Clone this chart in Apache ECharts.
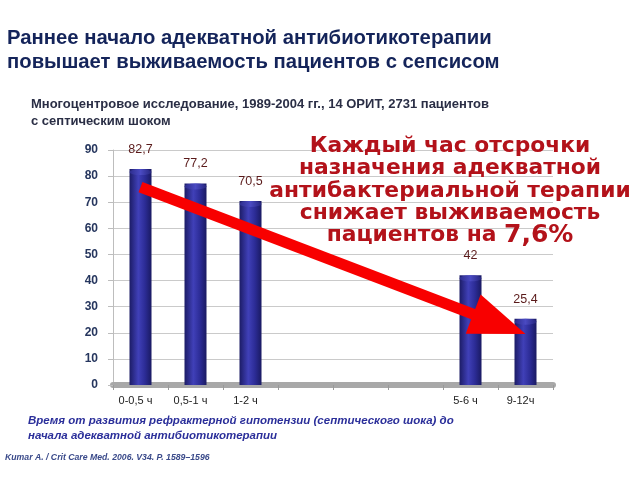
<!DOCTYPE html>
<html>
<head>
<meta charset="utf-8">
<script src="https://cdn.jsdelivr.net/npm/echarts@6/dist/echarts.min.js"></script>
<style>
html,body{margin:0;padding:0;background:#fff;}
#c{width:640px;height:480px;}
</style>
</head>
<body>
<div id="c"></div>
<script>
// ---- data ----
const categories = ['0-0,5 ч', '0,5-1 ч', '1-2 ч', '', '', '', '5-6 ч', '9-12ч'];
const survival = [82.7, 77.2, 70.5, null, null, null, 42, 25.4];
const yTicks = [0, 10, 20, 30, 40, 50, 60, 70, 80, 90];
// arrow annotation in data coordinates: [category index, value]
const arrowFrom = [0, 75.8];
const arrowTo = [7.06, 19.5];

const titleText = 'Раннее начало адекватной антибиотикотерапии\nповышает выживаемость пациентов с сепсисом';
const subText = 'Многоцентровое исследование, 1989-2004 гг., 14 ОРИТ, 2731 пациентов\nс септическим шоком';
const noteLines = ['Каждый час отсрочки', 'назначения адекватной', 'антибактериальной терапии', 'снижает выживаемость'];
const noteLast = ['пациентов на ', '7,6%'];
const xTitle = 'Время от развития рефрактерной гипотензии (септического шока) до\nначала адекватной антибиотикотерапии';
const citation = 'Kumar A. / Crit Care Med. 2006. V34. P. 1589–1596';

const chart = echarts.init(document.getElementById('c'), null, {renderer: 'canvas'});

const cyl = new echarts.graphic.LinearGradient(0, 0, 1, 0, [
  {offset: 0, color: '#1c1c66'},
  {offset: 0.4, color: '#4040b8'},
  {offset: 0.7, color: '#2c2c96'},
  {offset: 1, color: '#1a1a62'}
]);
const capGrad = new echarts.graphic.LinearGradient(0, 0, 1, 0, [
  {offset: 0, color: '#2c2c8c'},
  {offset: 0.5, color: '#4a4ac2'},
  {offset: 1, color: '#26267e'}
]);

const option = {
  animation: false,
  backgroundColor: '#ffffff',
  textStyle: {fontFamily: 'Liberation Sans, Arial, sans-serif'},
  title: [
    {text: titleText, left: 7, top: 26, padding: 0,
     textStyle: {fontSize: 20.3, fontWeight: 'bold', color: '#14245a', lineHeight: 24, fontFamily: 'Liberation Sans'}},
    {text: subText, left: 31, top: 96, padding: 0,
     textStyle: {fontSize: 13, fontWeight: 'bold', color: '#2a2e45', lineHeight: 17, fontFamily: 'Liberation Sans'}},
    {text: xTitle, left: 28, top: 413, padding: 0,
     textStyle: {fontSize: 11.5, fontWeight: 'bold', fontStyle: 'italic', color: '#2b2f9a', lineHeight: 15, fontFamily: 'Liberation Sans'}},
    {text: citation, left: 5, top: 453, padding: 0,
     textStyle: {fontSize: 8.7, fontWeight: 'bold', fontStyle: 'italic', color: '#3a4a8a', fontFamily: 'Liberation Sans'}}
  ],
  grid: {left: 113, right: 87, top: 150, bottom: 95, containLabel: false},
  xAxis: {
    type: 'category',
    data: categories,
    axisLine: {show: true, lineStyle: {color: '#a8a8a8', width: 6}},
    axisTick: {show: true, length: 5, lineStyle: {color: '#9a9a9a'}},
    axisLabel: {fontSize: 11, color: '#222', margin: 10, padding: [0, 10, 0, 0], interval: 0}
  },
  yAxis: {
    type: 'value',
    min: yTicks[0],
    max: yTicks[yTicks.length - 1],
    interval: 10,
    axisLine: {show: true, lineStyle: {color: '#bdbdbd'}},
    axisTick: {show: true, length: 5, lineStyle: {color: '#bdbdbd'}},
    axisLabel: {fontSize: 12, fontWeight: 'bold', color: '#26365e', margin: 15},
    splitLine: {lineStyle: {color: '#cacaca'}}
  },
  series: [
    {
      type: 'bar',
      data: survival,
      barWidth: 22,
      barGap: '-100%',
      itemStyle: {color: cyl},
      label: {
        show: true, position: 'top', distance: 13,
        fontSize: 12.5, color: '#5a1a1a',
        formatter: p => String(p.value).replace('.', ',')
      },
      z: 2
    },
    {
      type: 'pictorialBar',
      data: survival,
      symbol: 'circle',
      symbolSize: [22, 6],
      symbolPosition: 'end',
      barGap: '-100%',
      itemStyle: {color: capGrad},
      z: 3
    }
  ]
};
chart.setOption(option);

// arrow drawn from data coordinates through the chart's own scales
const p0 = chart.convertToPixel({seriesIndex: 0}, arrowFrom);
const tip = chart.convertToPixel({seriesIndex: 0}, arrowTo);
const dx = tip[0] - p0[0], dy = tip[1] - p0[1];
const len = Math.sqrt(dx * dx + dy * dy);
const ux = dx / len, uy = dy / len;
const headLen = 56, headHalf = 21;
const base = [tip[0] - ux * headLen, tip[1] - uy * headLen];
const px = -uy, py = ux;

const noteRich = {
  n: {fontSize: 21.8, fontWeight: 'bold', color: '#b3121a', fontFamily: 'DejaVu Sans', lineHeight: 22.2},
  b: {fontSize: 25, fontWeight: 'bold', color: '#b3121a', fontFamily: 'DejaVu Sans', lineHeight: 22.2}
};
const noteText = noteLines.map(l => '{n|' + l + '}').join('\n') + '\n{n|' + noteLast[0] + '}{b|' + noteLast[1] + '}';

chart.setOption({
  graphic: [
    {type: 'line', z: 100, shape: {x1: p0[0], y1: p0[1], x2: base[0] + ux * 2, y2: base[1] + uy * 2},
     style: {stroke: '#f80000', lineWidth: 11}},
    {type: 'polygon', z: 100, shape: {points: [
      [tip[0], tip[1]],
      [base[0] + px * headHalf, base[1] + py * headHalf],
      [base[0] - px * headHalf, base[1] - py * headHalf]
    ]}, style: {fill: '#f80000'}},
    {type: 'text', z: 110, x: 450, y: 135.5,
     style: {text: noteText, rich: noteRich, align: 'center', verticalAlign: 'top', fill: '#b3121a'}}
  ]
});
</script>
</body>
</html>
